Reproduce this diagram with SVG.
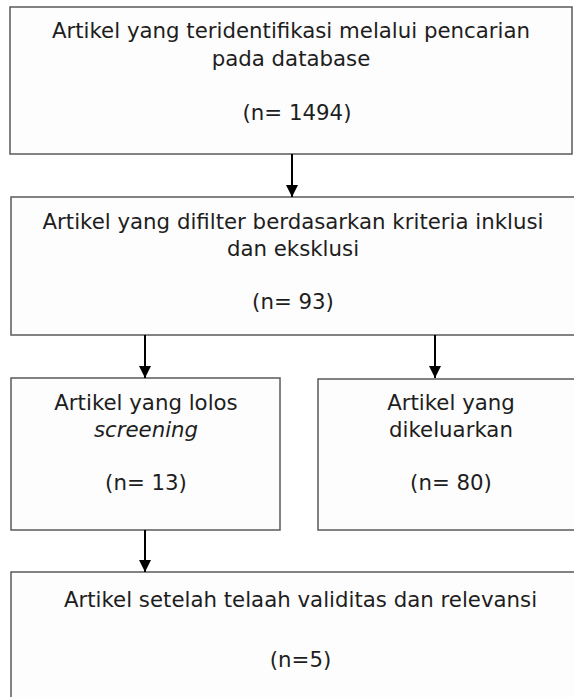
<svg xmlns="http://www.w3.org/2000/svg" width="574" height="697" viewBox="0 0 574 697">
<defs>
<style>
.box{fill:#fdfdfd;stroke:#5a5a5a;stroke-width:1.5}
.t{font-family:"DejaVu Sans",Verdana,sans-serif;font-size:21.3px;fill:#1e1e1e;text-anchor:middle}
.c{stroke:#000;stroke-width:2;fill:none}
</style>
<marker id="a" viewBox="0 0 10 10" refX="10" refY="5" markerWidth="12" markerHeight="12" markerUnits="userSpaceOnUse" orient="auto"><path d="M0,0 L10,5 L0,10 Z" fill="#000"/></marker>
</defs>
<rect width="574" height="697" fill="#fff"/>
<g id="n1">
<rect class="box" x="10" y="7" width="562" height="147"/>
<text class="t" x="291" y="37.5">Artikel yang teridentifikasi melalui pencarian</text>
<text class="t" x="291" y="65.5">pada database</text>
<text class="t" x="297" y="119.5">(n= 1494)</text>
</g>
<g id="n2">
<rect class="box" x="11" y="197" width="570" height="138"/>
<text class="t" x="293" y="229">Artikel yang difilter berdasarkan kriteria inklusi</text>
<text class="t" x="293" y="256">dan eksklusi</text>
<text class="t" x="293" y="309">(n= 93)</text>
</g>
<g id="n3">
<rect class="box" x="11" y="378" width="269" height="152"/>
<text class="t" x="146" y="409.5">Artikel yang lolos</text>
<text class="t" x="146" y="436.5" font-style="italic">screening</text>
<text class="t" x="146" y="489.5">(n= 13)</text>
</g>
<g id="n4">
<rect class="box" x="318" y="379" width="270" height="151"/>
<text class="t" x="451" y="409.5">Artikel yang</text>
<text class="t" x="451" y="436.5">dikeluarkan</text>
<text class="t" x="451" y="489.5">(n= 80)</text>
</g>
<g id="n5">
<rect class="box" x="11" y="572" width="580" height="140"/>
<text class="t" x="300.5" y="606.5">Artikel setelah telaah validitas dan relevansi</text>
<text class="t" x="300.5" y="666.5">(n=5)</text>
</g>
<g id="connectors">
<line class="c" x1="292" y1="154" x2="292" y2="197" marker-end="url(#a)"/>
<line class="c" x1="145" y1="335" x2="145" y2="378" marker-end="url(#a)"/>
<line class="c" x1="435" y1="335" x2="435" y2="378" marker-end="url(#a)"/>
<line class="c" x1="145" y1="530" x2="145" y2="572" marker-end="url(#a)"/>
</g>
</svg>
